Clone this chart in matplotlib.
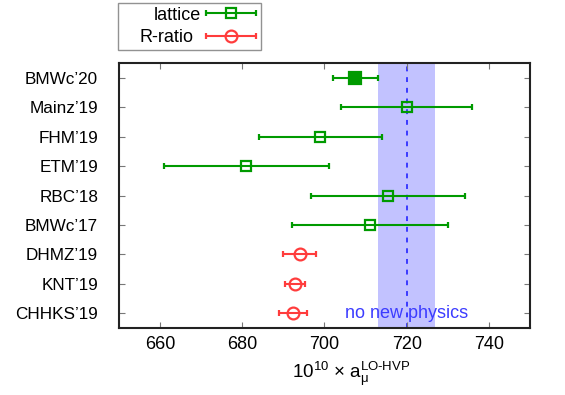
import matplotlib
matplotlib.use("Agg")
import matplotlib.pyplot as plt
from matplotlib.legend_handler import HandlerErrorbar

plt.rcParams['font.family'] = ['Liberation Sans', 'DejaVu Sans']
plt.rcParams['mathtext.fontset'] = 'custom'
plt.rcParams['mathtext.rm'] = 'Liberation Sans'
plt.rcParams['mathtext.it'] = 'Liberation Sans:italic'
plt.rcParams['mathtext.sf'] = 'Liberation Sans'

# data, top to bottom
labels = ["BMWc\u201920", "Mainz\u201919", "FHM\u201919", "ETM\u201919", "RBC\u201918",
          "BMWc\u201917", "DHMZ\u201919", "KNT\u201919", "CHHKS\u201919"]
values = [707.5, 720.0, 699.0, 681.0, 715.4, 711.1, 694.0, 692.8, 692.3]
errors = [5.5, 15.9, 15.0, 20.0, 18.7, 19.0, 4.0, 2.4, 3.4]
kind = ["lattice", "lattice", "lattice", "lattice", "lattice", "lattice",
        "R-ratio", "R-ratio", "R-ratio"]
nnp_center = 720.0
nnp_err = 6.9

green = "#009a00"
red = "#ff3c3c"
fs = 13

fig = plt.figure(figsize=(5.65, 3.95), dpi=100)
ax = fig.add_axes([0.2106, 0.1696, 0.7274, 0.6709])

# no new physics band
ax.axvspan(nnp_center - nnp_err, nnp_center + nnp_err, color="#c2c2ff", lw=0, zorder=0)
ax.axvline(nnp_center, color="#3a3aff", ls=(0, (2.5, 3)), lw=1.4, zorder=1)

ypos = list(range(len(labels)))
first = {"lattice": True, "R-ratio": True}
for i in ypos:
    if kind[i] == "lattice":
        col = green
        mk = "s"
        ms = 7.5
    else:
        col = red
        mk = "o"
        ms = 8.5
    mfc = "none"
    if i == 0:
        mfc = col
        ms = 9
    lab = None
    if first[kind[i]] and i != 0:
        lab = kind[i]
        first[kind[i]] = False
    ax.errorbar(values[i], i, xerr=errors[i], fmt=mk, color=col, mfc=mfc, mec=col,
                ms=ms, mew=1.6, lw=1.5, capsize=2.5, capthick=1.5, label=lab, zorder=3)

ax.text(nnp_center, 8, "no new physics", color="#3c3cff", fontsize=fs,
        ha="center", va="center", zorder=4)

ax.set_xlim(650, 750)
ax.set_ylim(8.5, -0.5)
ax.set_xticks([660, 680, 700, 720, 740])
ax.set_yticks(ypos)
ax.set_yticklabels(labels)
ax.tick_params(axis="both", direction="in", length=4, color="#777777", labelsize=fs,
               top=True, right=True)
ax.tick_params(axis="y", pad=15, labelsize=12.3)
ax.tick_params(axis="x", pad=6)
for s in ax.spines.values():
    s.set_linewidth(1.5)
    s.set_color("#222222")
ax.set_xlabel(r"10$^{10}$ $\times$ a$_{\mathrm{\mu}}^{\mathrm{LO\text{-}HVP}}$", fontsize=13.5)
ax.xaxis.set_label_coords(0.565, -0.12)

# legend: gnuplot style, right-aligned text then sample
dpx = fig.dpi / 72.0
extra = 18.0  # px of additional left padding
hmap = {type(ax.containers[0]): HandlerErrorbar(xerr_size=1.4)}
leg = ax.legend(loc="lower left", bbox_to_anchor=(-0.002, 1.05), borderaxespad=0,
                markerfirst=False, fancybox=False, edgecolor="#777777", fontsize=fs,
                handlelength=2.9, borderpad=0.2, labelspacing=0.3,
                handletextpad=(extra + 11.0) / dpx / fs, handler_map=hmap)
leg.get_frame().set_linewidth(1.0)

fig.canvas.draw()
r = fig.canvas.get_renderer()
widths = [t.get_window_extent(r).width for t in leg.get_texts()]
wmax = max(widths)
for t, w in zip(leg.get_texts(), widths):
    t.set_position((extra + wmax - w, 0))

fig.savefig("out.png", dpi=100)
